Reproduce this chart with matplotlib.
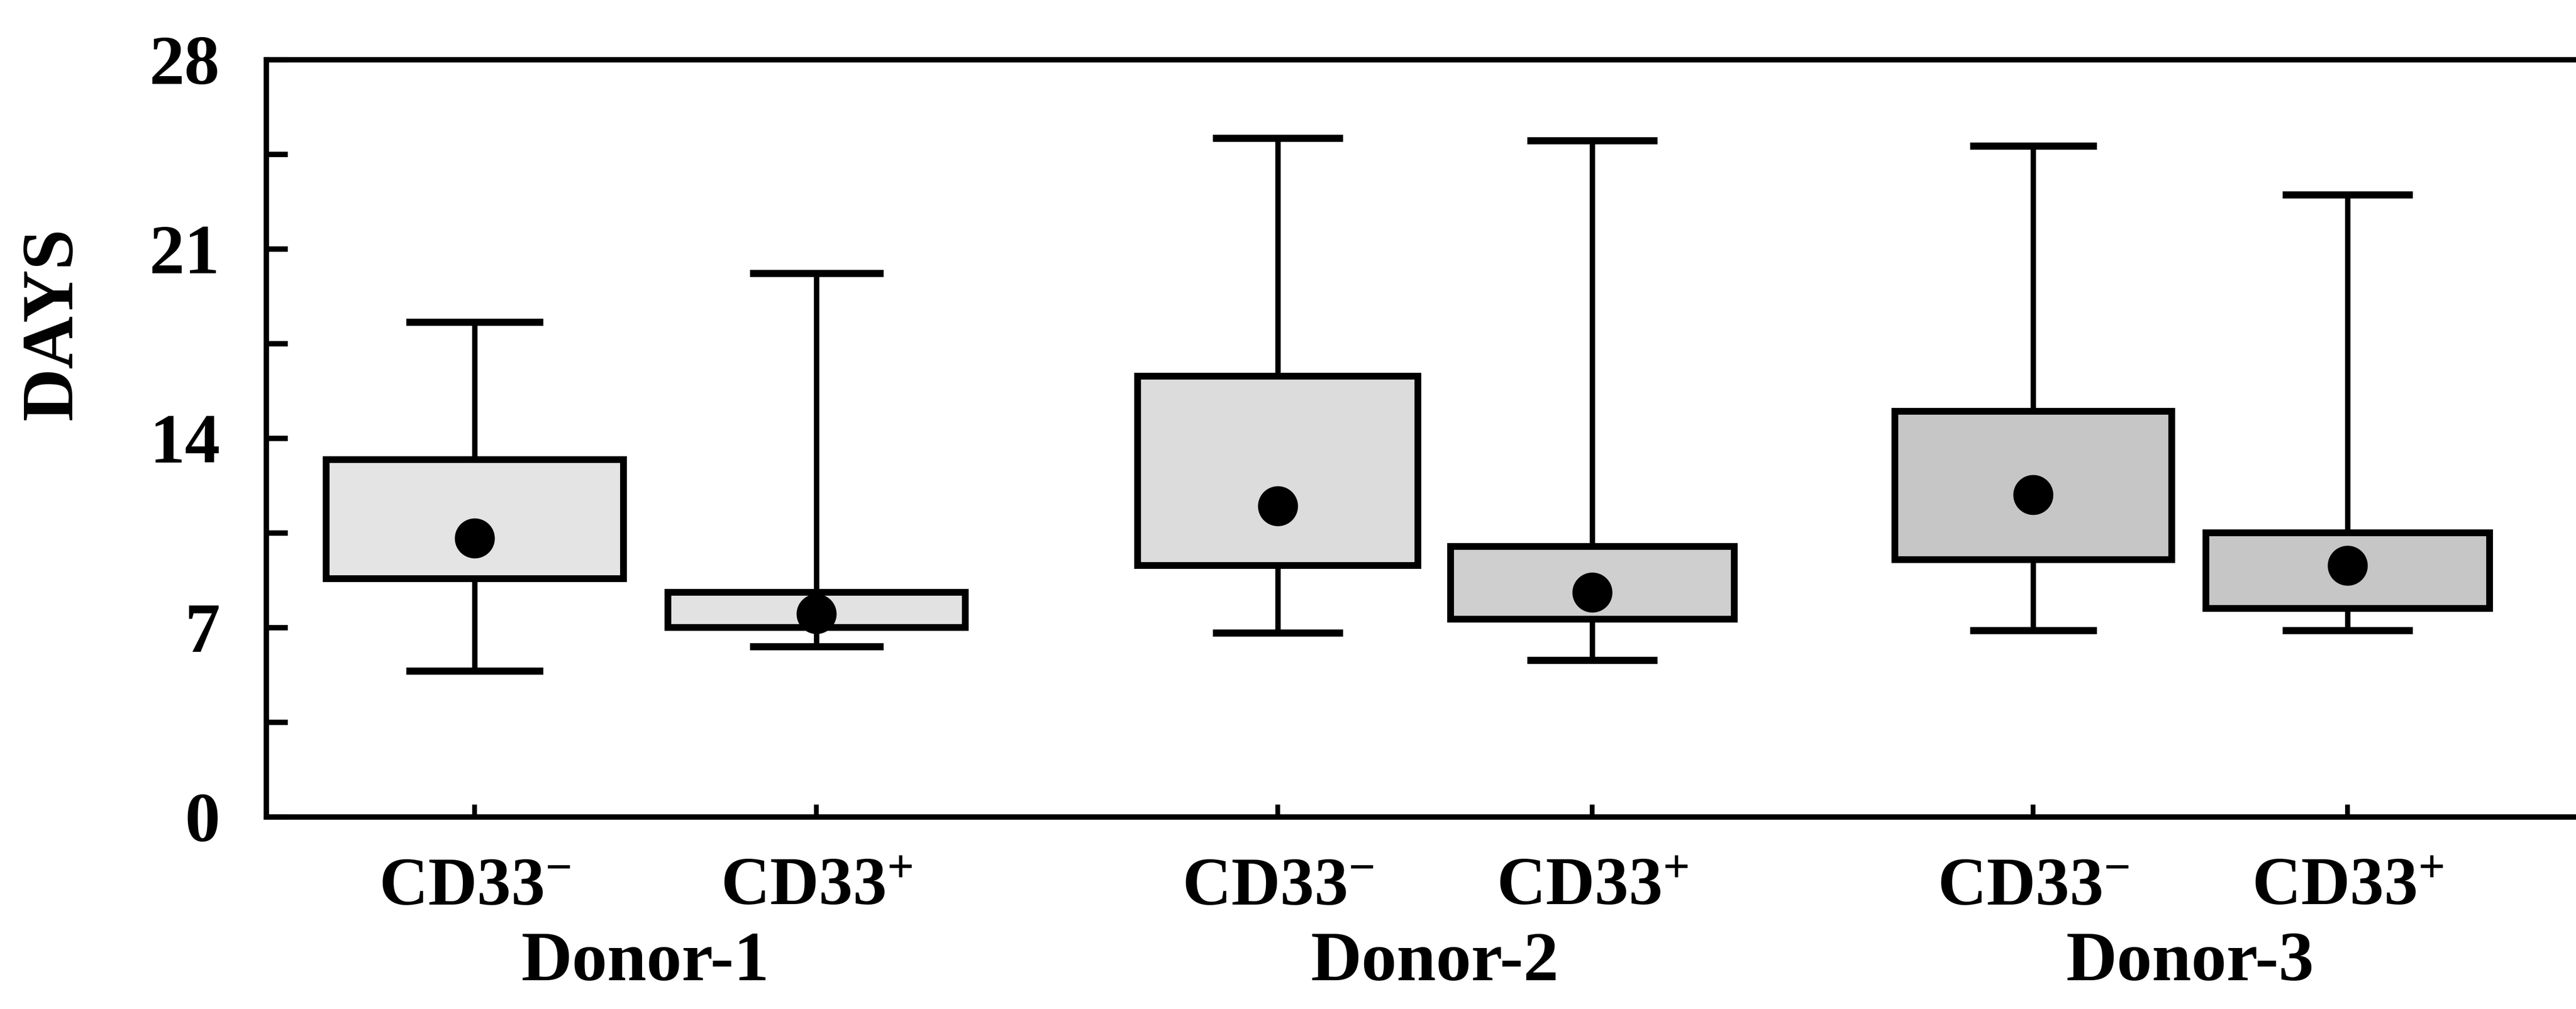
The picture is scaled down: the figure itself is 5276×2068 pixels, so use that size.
import matplotlib

matplotlib.use("Agg")
import matplotlib.pyplot as plt
from matplotlib import transforms

# values (days)
donors = ["Donor-1", "Donor-2", "Donor-3"]
subsets = [r"CD33$^{-}$", r"CD33$^{+}$"]
whisker_low = [5.4, 6.3, 6.8, 5.8, 6.9, 6.9]
q1 = [8.8, 7.0, 9.3, 7.3, 9.5, 7.7]
q3 = [13.2, 8.3, 16.3, 10.0, 15.0, 10.5]
whisker_high = [18.3, 20.1, 25.1, 25.0, 24.8, 23.0]
dot = [10.3, 7.5, 11.5, 8.3, 11.9, 9.3]
yticks = [0, 7, 14, 21, 28]

# layout only
positions = [0.61, 1.61, 2.96, 3.88, 5.17, 6.09]
widths = [0.87, 0.87, 0.82, 0.83, 0.81, 0.83]
capwidths = [0.38, 0.37, 0.36, 0.36, 0.35, 0.36]
fills = ["#e4e4e4", "#e2e2e2", "#dcdcdc", "#cfcfcf", "#c6c6c6", "#c6c6c6"]

plt.rcParams["font.family"] = ["Liberation Serif", "DejaVu Serif"]
plt.rcParams["font.weight"] = "bold"
plt.rcParams["mathtext.fontset"] = "custom"
plt.rcParams["mathtext.rm"] = "Liberation Serif:bold"
plt.rcParams["mathtext.default"] = "rm"

W, H = 5276, 2068
fig = plt.figure(figsize=(W / 100, H / 100), dpi=100)
ax = fig.add_axes([545 / W, 1 - 1674 / H, 1 - 545 / W, (1674 - 122) / H])

stats = []
for i in range(len(dot)):
    stats.append(dict(med=dot[i], q1=q1[i], q3=q3[i], whislo=whisker_low[i],
                      whishi=whisker_high[i], mean=dot[i], fliers=[]))

bp = ax.bxp(stats, positions=positions, widths=widths, capwidths=capwidths,
            patch_artist=True, showmeans=True, showfliers=False,
            boxprops=dict(linewidth=10, edgecolor="black"),
            whiskerprops=dict(linewidth=8, color="black"),
            capprops=dict(linewidth=10.5, color="black"),
            medianprops=dict(visible=False),
            meanprops=dict(marker="o", markersize=58, markerfacecolor="black",
                           markeredgecolor="black"))
for patch, c in zip(bp["boxes"], fills):
    patch.set_facecolor(c)
    patch.set_joinstyle("miter")

ax.set_xlim(0, (W - 545) / 700)
ax.set_ylim(0, 28)

ax.spines["right"].set_visible(False)
for s in ("left", "bottom", "top"):
    ax.spines[s].set_linewidth(8)

ax.set_yticks(yticks)
ax.set_yticks([3.5, 10.5, 17.5, 24.5], minor=True)
ax.tick_params(axis="y", which="both", direction="in", length=32, width=8,
               pad=68, labelsize=104)
ax.set_xticks(positions)
ax.set_xticklabels([])
ax.tick_params(axis="x", direction="in", length=18, width=7)

# subset labels and donor labels under the axis
tr = transforms.blended_transform_factory(ax.transData, fig.transFigure)
for i, x in enumerate(positions):
    ax.text(x, 1 - 1854 / H, subsets[i % 2], transform=tr, ha="center",
            va="baseline", fontsize=100, fontweight="bold")
for g, name in enumerate(donors):
    xm = (positions[2 * g] + positions[2 * g + 1]) / 2
    ax.text(xm, 1 - 2009 / H, name, transform=tr, ha="center",
            va="baseline", fontsize=104, fontweight="bold")

fig.text(110 / W, 1 - 664 / H, "DAYS", rotation=90, ha="center", va="center",
         fontsize=108, fontweight="bold")

fig.savefig("out.png", dpi=100)
